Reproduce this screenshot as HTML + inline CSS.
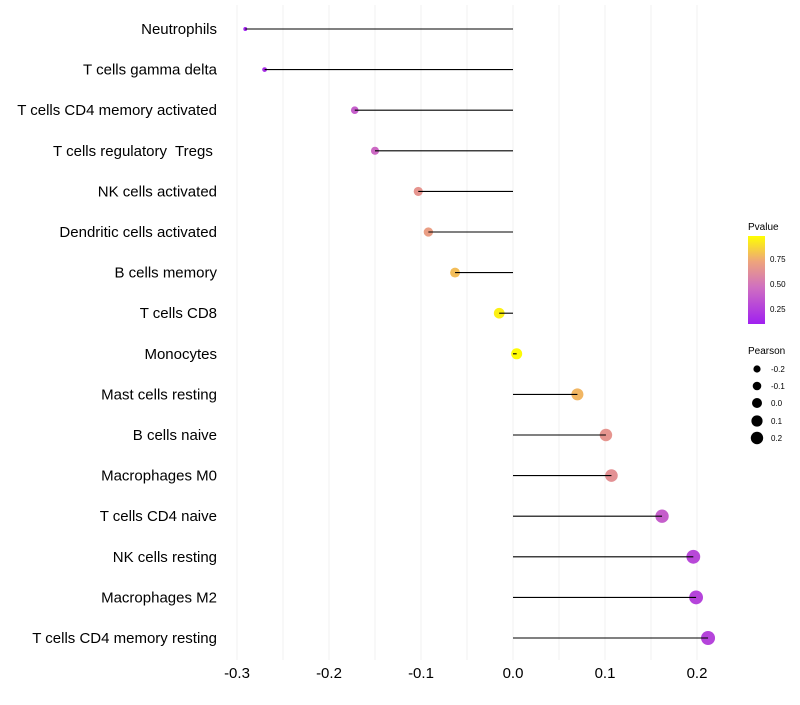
<!DOCTYPE html>
<html><head><meta charset="utf-8"><style>
body{margin:0;background:#fff;font-family:"Liberation Sans",sans-serif}
svg text{font-family:"Liberation Sans",sans-serif;white-space:pre}
</style></head><body>
<svg id="chart" width="800" height="700" xmlns="http://www.w3.org/2000/svg">
<g id="grid"></g>
<g id="marks"></g>
<g id="ylab"></g>
<g id="xlab"></g>
<g>
<text x="748" y="230" font-size="10">Pvalue</text>
<defs><linearGradient id="cg" x1="0" y1="1" x2="0" y2="0">
<stop offset="0" stop-color="#a020f0"/><stop offset="0.42" stop-color="#d070c0"/><stop offset="0.71" stop-color="#eea47c"/><stop offset="1" stop-color="#ffff00"/></linearGradient></defs>
<rect x="748" y="236" width="17" height="88" fill="url(#cg)"/>
<text x="770" y="262" font-size="8">0.75</text>
<text x="770" y="287" font-size="8">0.50</text>
<text x="770" y="312" font-size="8">0.25</text>
</g>
<g>
<text x="748" y="354" font-size="10">Pearson</text>
<circle cx="757" cy="369" r="3.6"/><text x="771" y="372" font-size="8">-0.2</text>
<circle cx="757" cy="386" r="4.3"/><text x="771" y="389" font-size="8">-0.1</text>
<circle cx="757" cy="403" r="5"/><text x="771" y="406" font-size="8">0.0</text>
<circle cx="757" cy="421" r="5.6"/><text x="771" y="424" font-size="8">0.1</text>
<circle cx="757" cy="438" r="6.2"/><text x="771" y="441" font-size="8">0.2</text>
</g>
</svg>
<script>
const categories=["Neutrophils","T cells gamma delta","T cells CD4 memory activated","T cells regulatory  Tregs ","NK cells activated","Dendritic cells activated","B cells memory","T cells CD8","Monocytes","Mast cells resting","B cells naive","Macrophages M0","T cells CD4 naive","NK cells resting","Macrophages M2","T cells CD4 memory resting"];
const pearson=[-0.291,-0.270,-0.172,-0.150,-0.103,-0.092,-0.063,-0.015,0.004,0.070,0.101,0.107,0.162,0.196,0.199,0.212];
const pvalues=[0.15,0.2,0.42,0.47,0.68,0.72,0.82,0.96,0.99,0.8,0.68,0.66,0.42,0.32,0.3,0.3];
const xTicks=[-0.3,-0.2,-0.1,0.0,0.1,0.2];
const NS="http://www.w3.org/2000/svg";
function xs(v){return 513+v*920;}
function ys(i){return 29+i*40.6;}
function mk(t,a,p){const e=document.createElementNS(NS,t);for(const k in a)e.setAttribute(k,a[k]);p.appendChild(e);return e;}
function hex(c){return c.map(x=>Math.round(x)).map(x=>x.toString(16).padStart(2,'0')).join('');}
const stops=[[0.14,[160,32,240]],[0.5,[208,112,192]],[0.75,[238,164,124]],[1,[255,255,0]]];
function col(p){if(p<=stops[0][0])return '#'+hex(stops[0][1]);for(let i=1;i<stops.length;i++){if(p<=stops[i][0]){const a=stops[i-1],b=stops[i],t=(p-a[0])/(b[0]-a[0]);return '#'+hex(a[1].map((v,j)=>v+(b[1][j]-v)*t));}}return '#ffff00';}
const grid=document.getElementById('grid'),marks=document.getElementById('marks'),yl=document.getElementById('ylab'),xl=document.getElementById('xlab');
for(let v=-0.3;v<=0.451;v+=0.05){const x=xs(v);if(x>725)break;const g=mk('line',{x1:x,x2:x,y1:5,y2:660,stroke:'#f0f0f0','stroke-width':1},grid);

}
xTicks.forEach(v=>{const t=mk('text',{x:xs(v),y:678,'text-anchor':'middle','font-size':15,fill:'#000'},xl);t.textContent=v.toFixed(1);

});
categories.forEach((c,i)=>{const y=ys(i);
const t=mk('text',{x:217,y:y+5,'text-anchor':'end','font-size':15,fill:'#000'},yl);t.textContent=c;


const r=Math.sqrt(Math.max(3,30+90*pearson[i]));
const ci=mk('circle',{cx:xs(pearson[i]),cy:y,r:r,fill:col(pvalues[i])},marks);


const l=mk('line',{x1:xs(pearson[i]),x2:xs(0),y1:y,y2:y,stroke:'#000','stroke-width':1.1},marks);


});
</script>
</body></html>
